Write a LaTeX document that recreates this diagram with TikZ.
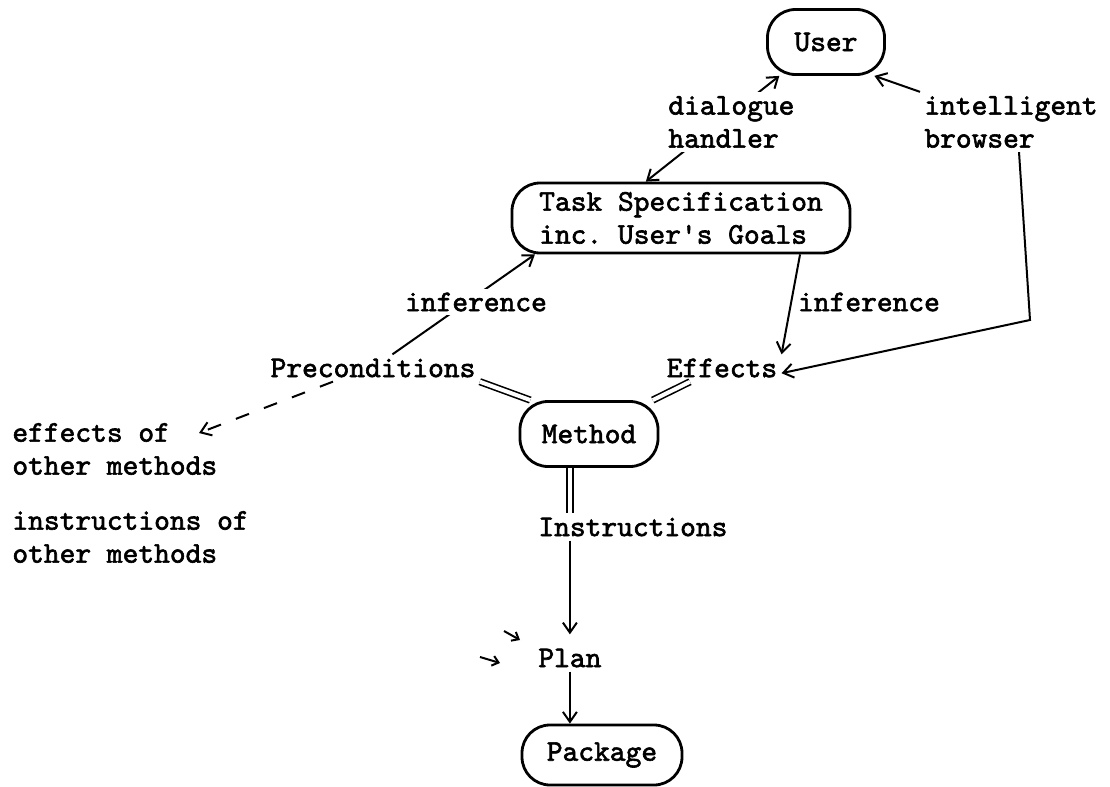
\documentclass[tikz,border=0pt]{standalone}
\usepackage{fontspec}
\setmonofont[AutoFakeBold=2]{lmmono10-regular.otf}
\usetikzlibrary{arrows.meta}
\begin{document}
\begin{tikzpicture}[x=0.5pt, y=-0.5pt,
  every node/.style={font=\fontsize{15}{16.5}\selectfont\ttfamily\bfseries},
  box/.style={draw, line width=1.4pt, rounded corners=14pt, inner sep=0pt},
  lbl/.style={inner sep=2pt},
  link/.style={line width=1pt, ->},
  dbl/.style={double, line width=0.8pt, double distance=2pt},
  >={Straight Barb[length=5pt, width=7pt]}]
  \useasboundingbox (0,0) rectangle (1110,787);
  % boxes
  \node[box, minimum width=58.5pt, minimum height=32.5pt] (user) at (826,42) {User};
  \node[box, minimum width=169pt, minimum height=35pt, align=left] (task) at (681,218) {Task Specification\\inc. User's Goals};
  \node[box, minimum width=69pt, minimum height=32.5pt] (method) at (589,434) {Method};
  \node[box, minimum width=80pt, minimum height=30pt] (package) at (602,755) {Package};
  % labels
  \node[lbl, anchor=west, align=left] (browser) at (920,122) {intelligent\\browser};
  \node[lbl] (infR) at (869,302) {inference};
  \node[lbl] (pre) at (373,368) {Preconditions};
  \node[lbl] (eff) at (722,368) {Effects};
  \node[lbl, anchor=west, align=left] (effo) at (8,449) {effects of\\other methods};
  \node[lbl, anchor=west, align=left] (insto) at (8,537) {instructions of\\other methods};
  \node[lbl, anchor=west] (instr) at (534,527) {Instructions};
  \node[lbl, anchor=west] (plan) at (534,658) {Plan};
  \coordinate (brbend) at (1030,320);
  \coordinate (effotip) at (199,433);
  \coordinate (s1) at (504,631);
  \coordinate (e1) at (520,640);
  \coordinate (s2) at (480,657);
  \coordinate (e2) at (500,663);
  % lines running under the labels
  \draw[link, <->] (task.134) -- (user.216);
  \draw[link] (pre) -- (task.194);
  \node[lbl, fill=white, anchor=west, align=left] (handler) at (664,122) {dialogue\\handler};
  \node[lbl, fill=white] (infL) at (476,302) {inference};
  % other connectors
  \draw[link] (browser.north west) -- (user.-35);
  \draw[link] ([xshift=4pt]browser.south) -- (brbend) -- (eff.-5);
  \draw[link] (task.-17) -- (eff.north east);
  \draw[link, dashed, dash pattern=on 7pt off 8pt] ([xshift=-20pt]pre.south) -- (effotip);
  \draw[dbl] (pre.south east) -- (method.150);
  \draw[dbl] ([xshift=-16pt]eff.south) -- (method.28);
  \draw[dbl] (method.south -| plan.north) -- (instr.north -| plan.north);
  \draw[link, shorten >=5pt] (instr.south -| plan.north) -- (plan.north);
  \draw[link] (plan.south) -- (package.north -| plan.south);
  \draw[link, >={Straight Barb[length=3pt, width=5pt]}] (s1) -- (e1);
  \draw[link, >={Straight Barb[length=3pt, width=5pt]}] (s2) -- (e2);
\end{tikzpicture}
\end{document}
